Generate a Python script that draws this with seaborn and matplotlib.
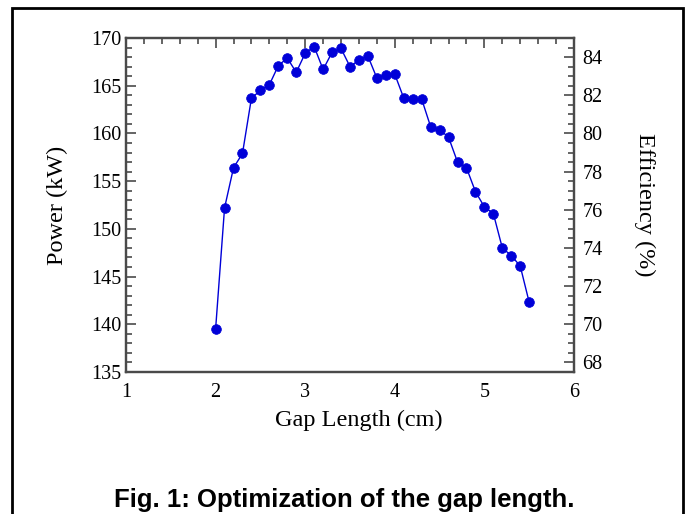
import matplotlib
matplotlib.use('Agg')
import matplotlib.pyplot as plt
import seaborn as sns
from matplotlib.ticker import MultipleLocator
from matplotlib.patches import Rectangle

# Gap length sweep (cm) and measured output power (kW)
gap_length = [2.0, 2.1, 2.2, 2.3, 2.4, 2.5, 2.6, 2.7, 2.8, 2.9,
              3.0, 3.1, 3.2, 3.3, 3.4, 3.5, 3.6, 3.7, 3.8, 3.9,
              4.0, 4.1, 4.2, 4.3, 4.4, 4.5, 4.6, 4.7, 4.8, 4.9,
              5.0, 5.1, 5.2, 5.3, 5.4, 5.5]
power = [139.5, 152.2, 156.4, 157.9, 163.7, 164.5, 165.1, 167.1, 167.9, 166.4,
         168.4, 169.1, 166.7, 168.5, 168.9, 167.0, 167.7, 168.1, 165.8, 166.1,
         166.2, 163.7, 163.6, 163.6, 160.7, 160.4, 159.6, 157.0, 156.4, 153.9,
         152.3, 151.6, 148.0, 147.2, 146.1, 142.3]

input_power = 200.0  # kW, efficiency = power / input
caption = 'Fig. 1: Optimization of the gap length.'

sns.set_style('white')
plt.rcParams['font.family'] = ['Liberation Serif', 'DejaVu Serif']
plt.rcParams['text.color'] = 'black'
plt.rcParams['axes.labelcolor'] = 'black'

fig = plt.figure(figsize=(6.89, 5.14), dpi=100)
ax = fig.add_axes([126/689, 1 - 372/514, 448/689, 334/514])

blue = '#0000d8'
sns.lineplot(x=gap_length, y=power, ax=ax, color=blue, linewidth=1.0,
             marker='o', markersize=7, markeredgecolor=blue,
             markerfacecolor=blue, markeredgewidth=0.5)

ax.set_xlim(1, 6)
ax.set_ylim(135, 170)
ax.xaxis.set_major_locator(MultipleLocator(1))
ax.xaxis.set_minor_locator(MultipleLocator(0.2))
ax.yaxis.set_major_locator(MultipleLocator(5))
ax.yaxis.set_minor_locator(MultipleLocator(1))

spine_col = '#4a4a4a'
for s in ax.spines.values():
    s.set_color(spine_col)
    s.set_linewidth(1.6)

ax.tick_params(which='both', direction='in', top=True, right=False,
               color=spine_col, width=1.2, labelsize=14.5, labelcolor='black')
ax.tick_params(which='major', length=7.5)
ax.tick_params(which='minor', length=4)
ax.tick_params(axis='y', pad=3)
ax.tick_params(axis='x', pad=8)

ax.set_xlabel('Gap Length (cm)', fontsize=17.5, labelpad=3)
ax.xaxis.set_label_coords(0.52, -0.113)
ax.set_ylabel('Power (kW)', fontsize=17.5, labelpad=17)

# Efficiency axis on the right, same scale as power / input
ax2 = ax.twinx()
ax2.set_ylim(135 / input_power * 100, 170 / input_power * 100)
ax2.yaxis.set_major_locator(MultipleLocator(2))
ax2.yaxis.set_minor_locator(MultipleLocator(0.5))
for s in ax2.spines.values():
    s.set_color(spine_col)
    s.set_linewidth(1.6)
ax2.tick_params(which='both', direction='in', color=spine_col, width=1.2,
                labelsize=14.5, labelcolor='black', pad=6)
ax2.tick_params(which='major', length=7.5)
ax2.tick_params(which='minor', length=4)
ax2.set_ylabel('Efficiency (%)', fontsize=17.5, rotation=270, labelpad=38)

# outer frame and caption
fig.add_artist(Rectangle((12/689, -0.1), 671/689, 1.1 - 8/514, fill=False,
                         edgecolor='black', linewidth=2,
                         transform=fig.transFigure, clip_on=False))
fig.text(0.5, 1 - 507/514, caption, ha='center', va='baseline', fontsize=18.5,
         fontweight='bold', family=['Liberation Sans', 'DejaVu Sans'])

fig.savefig('out.png', dpi=100)
